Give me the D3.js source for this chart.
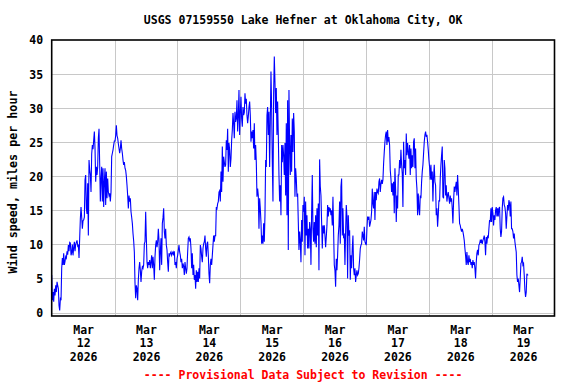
<!DOCTYPE html>
<html><head><meta charset="utf-8">
<script src="https://cdn.jsdelivr.net/npm/d3@7"></script>
<style>
html,body{margin:0;padding:0;background:#fff;}
svg{display:block;font-family:"DejaVu Sans Mono",monospace;font-weight:bold;}
</style></head><body>
<svg id="chart" width="576" height="384"></svg>
<script>
// ---- data ----
const title = "USGS 07159550 Lake Hefner at Oklahoma City, OK";
const yLabel = "Wind speed, miles per hour";
const footer = "---- Provisional Data Subject to Revision ----";
const startTime = Date.UTC(2026, 2, 12, 0, 0);
const endTime = Date.UTC(2026, 2, 20, 0, 0);
const stepMinutes = 15.27; // spacing of the readings
const yTicks = [0, 5, 10, 15, 20, 25, 30, 35, 40];
const dayLabels = [
  ["Mar","12","2026"],["Mar","13","2026"],["Mar","14","2026"],["Mar","15","2026"],
  ["Mar","16","2026"],["Mar","17","2026"],["Mar","18","2026"],["Mar","19","2026"]
];
const windMar12 = [5.5,1.8,3.0,1.6,3.5,2.5,4.0,3.0,4.5,4.0,3.5,1.0,0.3,2.0,1.8,6.5,8.0,7.0,8.7,7.0,7.5,8.2,8.0,9.0,8.5,9.9,9.0,10.3,10.2,8.4,8.8,10.0,8.4,9.5,10.4,9.0,10.0,10.3,10.6,9.8,10.0,8.0,11.0,13.8,15.5,14.0,12.3,13.5,13.6,14.0,19.5,20.2,15.3,14.5,19.0,11.3,22.4,21.0,20.2,17.7,23.3,24.6,24.0,25.3,26.6,24.1,19.2,21.4,20.2,21.4,25.6,27.0,21.7,16.3,19.7,21.4,16.3,21.2,15.5,19.2,21.2,15.8,20.7,16.8,19.7,17.7,17.2,17.5,16.3,17.7,22.9,23.4,23.9,24.6,25.2,25.2,26.0,27.5,26.0,25.6,24.8,24.1,23.4,24.1,25.3,24.1,23.4,22.4,21.7,22.1,21.2,20.9,20.0,18.7,17.2,15.3,17.2,16.3];
const windMar13 = [16.8,14.8,14.0,13.1,11.6,10.5,8.9,4.3,2.1,4.0,3.5,1.8,4.8,6.5,7.4,6.2,4.5,6.0,6.7,6.5,7.0,10.1,10.4,14.8,10.9,7.4,6.5,7.4,7.0,7.7,6.5,7.4,8.4,6.5,8.2,7.0,4.8,8.2,9.9,10.6,9.6,10.4,12.3,10.6,6.2,8.9,10.9,7.0,13.1,13.9,15.3,11.9,10.9,12.3,9.9,9.2,7.4,6.0,8.7,8.4,8.7,8.9,8.4,8.7,8.9,8.4,9.0,7.0,7.4,6.5,7.9,8.4,9.2,9.9,8.9,8.4,7.4,7.9,6.5,7.2,6.8,5.5,7.4,6.5,5.7,6.5,8.9,10.9,11.1,10.6,10.9,9.4,6.5,8.7,5.5,7.0,4.8,5.5,3.5,6.2,4.5,6.0,4.5,6.5,5.0,9.9,9.4,8.2,7.4,9.4,10.1,10.4,11.3,9.4,8.2,10.1,10.4,8.4,5.7,4.3,7.0,7.9,7.0,8.4,9.9,11.3,10.4,11.3];
const windMar14 = [11.3,15.5,15.3,16.0,16.3,17.7,17.9,16.3,20.7,17.7,24.4,19.2,22.9,22.1,21.4,21.7,25.3,23.9,27.0,20.7,24.9,23.9,21.4,22.6,25.3,26.8,29.3,27.8,25.6,29.5,28.0,28.5,31.2,26.6,28.8,32.7,26.1,29.3,31.7,28.5,27.3,30.2,29.0,29.4,32.2,30.7,31.4,29.0,27.8,28.8,30.2,31.0,29.0,25.1,26.6,25.6,26.8,24.1,27.8,22.4,24.6,22.1,17.0,18.2,17.2,12.3,16.8,15.3,13.3,10.1,11.3,10.1,13.1,10.4,14.3,22.4,21.4,29.0,30.2,26.1,29.5,21.4,28.0,35.4,30.2,22.1,16.3,32.2,37.6,33.9,29.3,33.0,26.1,31.0,26.1,20.2,16.3,18.7,14.3,24.6,22.1,24.6,23.1,20.2,24.9,17.2,27.8,14.3,31.2,9.2,32.7,24.6,20.2,26.1,20.7,28.5,23.6,29.3,26.6,17.0,21.2,19.7,17.0,17.5,13.3,9.2,11.9,10.6];
const windMar15 = [7.4,13.6,10.4,15.8,14.8,17.0,8.4,16.3,11.3,14.3,9.4,12.3,9.4,13.3,12.3,7.0,14.6,20.2,12.3,10.4,13.3,10.1,14.3,9.6,15.3,11.3,16.0,6.2,22.5,18.5,17.2,13.3,9.4,12.8,11.6,12.8,11.3,9.6,11.1,12.8,15.8,14.1,15.5,15.0,15.3,14.3,15.0,12.8,17.0,11.9,7.0,6.2,3.8,7.9,6.2,8.4,11.3,12.8,16.3,10.1,18.5,19.7,11.3,15.3,10.9,11.6,7.0,11.9,15.8,14.1,5.0,14.3,11.3,12.1,4.8,8.4,6.5,9.4,11.3,6.5,5.5,6.5,4.5,5.5,6.2,5.5,5.7,6.5,7.8,9.4,9.9,10.1,11.9,11.3,10.6,12.6,10.4,10.1,9.9,12.3,14.1,13.6,14.1,12.6,13.1,13.6,14.8,18.2,16.0,15.3,17.7,13.6,17.7,16.5,18.2,17.7,17.5,19.2,19.7,17.7,18.9,19.5,18.9,19.5,21.9,23.6,25.1,26.1];
const windMar17 = [26.6,24.6,26.8,25.1,25.8,24.6,20.9,19.7,17.7,19.0,17.2,19.2,14.6,21.2,18.2,13.3,17.2,15.3,20.2,20.2,22.4,21.2,23.9,21.7,20.4,15.5,25.1,21.2,22.4,20.2,26.3,23.1,24.9,23.6,22.6,24.6,20.2,24.1,21.2,23.1,21.4,25.1,25.6,21.2,24.1,19.7,18.2,14.3,17.5,15.3,14.3,17.2,16.8,19.2,20.7,21.7,23.4,25.1,26.1,26.6,25.8,26.1,25.1,23.9,22.4,21.4,19.5,21.7,19.5,20.7,16.3,19.9,21.7,19.2,18.7,14.3,15.3,12.6,14.3,16.5,16.3,19.7,21.7,23.1,24.4,17.0,16.8,22.4,21.2,17.2,18.7,16.3,17.2,17.7,16.8,16.0,17.2,16.3,16.8,15.3,13.1,16.3,18.5,17.7,18.5,19.2,17.2,20.2,18.2,15.8,13.1,12.8,12.3,11.9,12.3,11.9,11.3,10.6,9.4,8.4,7.0,8.9,7.4,7.0,8.4,7.4,7.9,7.0];
const windMar18 = [7.4,6.5,7.7,7.0,7.4,6.5,5.0,7.4,8.7,9.2,8.4,9.9,10.1,10.6,10.4,10.6,10.1,10.6,10.9,11.3,10.4,8.4,11.1,10.1,11.3,10.9,12.3,13.6,13.3,15.3,13.3,15.5,14.6,12.8,14.3,13.6,15.0,15.5,14.1,15.3,14.1,15.3,15.5,12.3,11.1,11.9,15.3,16.8,17.0,15.8,15.5,14.6,12.3,14.1,15.8,15.0,16.5,16.0,14.1,16.3,12.3,12.3,11.9,10.9,11.6,10.4,9.6,8.9,5.5,4.5,5.0,4.0,3.0,5.0,7.2,7.4,8.2,7.0,7.2,5.5,3.3,2.3,3.0,5.7,5.5,5.5];
const windSpeed = [].concat(windMar12, windMar13, windMar14, windMar15, windMar17, windMar18);

// ---- layout ----
const svg = d3.select("#chart");
const L = 51.7, R = 554.5, T = 40.3, B0 = 312.5, FB = 316;

const x = d3.scaleUtc().domain([startTime, endTime]).range([L, R]);
const y = d3.scaleLinear().domain([0, 40]).range([B0, T]);

const data = windSpeed.map((v, i) => ({t: new Date(startTime + i * stepMinutes * 60000), v}));

// grid
const grid = svg.append("g");
grid.selectAll("line.h").data(yTicks.slice(0, -1)).join("line")
  .attr("x1", L).attr("x2", R).attr("y1", d => Math.round(y(d)) + 0.5).attr("y2", d => Math.round(y(d)) + 0.5)
  .attr("stroke", "#c8c8c8").attr("stroke-width", 1);
const midnights = d3.utcDay.range(new Date(startTime + 1), new Date(endTime));
grid.selectAll("line.v").data(midnights).join("line")
  .attr("x1", d => Math.round(x(d)) + 0.5).attr("x2", d => Math.round(x(d)) + 0.5)
  .attr("y1", T).attr("y2", FB)
  .attr("stroke", "#c8c8c8").attr("stroke-width", 1);

// line
const line = d3.line().x(d => x(d.t)).y(d => y(d.v));
svg.append("path").datum(data).attr("d", line)
  .attr("fill", "none").attr("stroke", "#0000ff").attr("stroke-width", 1.1)
  .attr("stroke-linejoin", "miter");

// frame
svg.append("rect").attr("x", L).attr("y", 40).attr("width", R - L).attr("height", FB - 40)
  .attr("fill", "none").attr("stroke", "#000").attr("stroke-width", 1.6);

// y axis
const yAxis = svg.append("g").attr("transform", `translate(${L},0)`)
  .call(d3.axisLeft(y).tickValues(yTicks).tickSize(0).tickPadding(8.5).tickFormat(d3.format("d")));
yAxis.select(".domain").remove();
yAxis.selectAll("text").attr("font-size", "11.5px").attr("font-family", "DejaVu Sans Mono, monospace")
  .attr("font-weight", "bold").attr("fill", "#000");

// x axis (labels at noon of each day)
const noons = dayLabels.map((d, i) => new Date(startTime + (i + 0.5) * 86400000));
const xAxis = svg.append("g").attr("transform", `translate(0,${FB})`)
  .call(d3.axisBottom(x).tickValues(noons).tickSize(0).tickFormat(""));
xAxis.select(".domain").remove();
xAxis.selectAll(".tick text").each(function(d, i) {
  const t = d3.select(this).attr("y", 0).attr("dy", null)
    .attr("font-size", "11.5px").attr("font-family", "DejaVu Sans Mono, monospace")
    .attr("font-weight", "bold").attr("fill", "#000");
  dayLabels[i].forEach((s, k) => {
    t.append("tspan").attr("x", 0).attr("y", 18 + k * 13.3).text(s);
  });
});

// title
svg.append("text").attr("x", (L + R) / 2).attr("y", 24).attr("text-anchor", "middle")
  .attr("font-size", "11.5px").text(title);
// y label
svg.append("text").attr("transform", "translate(17,182) rotate(-90)").attr("text-anchor", "middle")
  .attr("font-size", "11.7px").text(yLabel);
// footer
svg.append("text").attr("x", (L + R) / 2).attr("y", 379).attr("text-anchor", "middle")
  .attr("font-size", "11.5px").attr("fill", "#ff0000").text(footer);
</script>
</body></html>
